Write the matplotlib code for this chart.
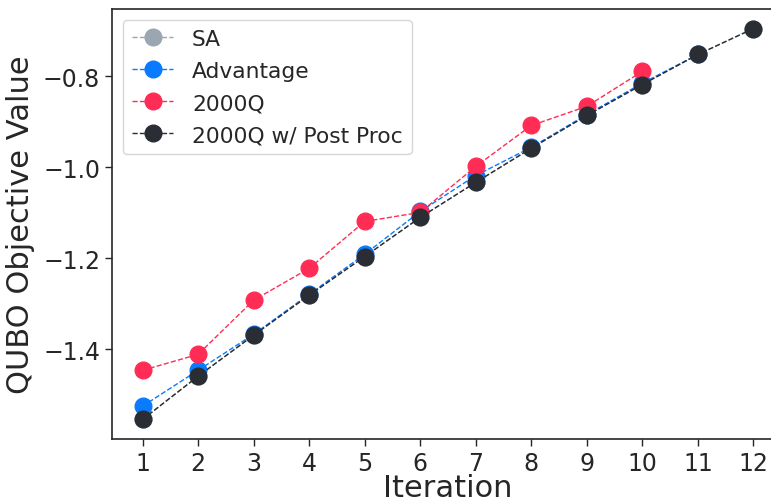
import numpy as np
import matplotlib
matplotlib.use("Agg")
import matplotlib.pyplot as plt

iterations = list(range(1, 13))

sa = [-1.554, -1.459, -1.369, -1.281, -1.196, -1.110, -1.033, -0.958, -0.886, -0.818, -0.752, -0.695]
advantage = [-1.525, -1.446, -1.367, -1.279, -1.191, -1.097, -1.018, -0.956, -0.884, -0.815, -0.752]
q2000 = [-1.446, -1.411, -1.292, -1.222, -1.119, -1.099, -0.998, -0.908, -0.866, -0.789]
q2000_post = [-1.554, -1.459, -1.369, -1.281, -1.196, -1.110, -1.033, -0.958, -0.886, -0.818, -0.752, -0.695]

series = [
    ("SA", sa, "#9aa6b2"),
    ("Advantage", advantage, "#0a7bff"),
    ("2000Q", q2000, "#ff2d55"),
    ("2000Q w/ Post Proc", q2000_post, "#2a2d34"),
]

text_color = "#262626"
plt.rcParams["font.family"] = "DejaVu Sans"

fig = plt.figure(figsize=(7.71, 5.02), dpi=100)
W, H = 771, 502
ax = fig.add_axes([112 / W, (H - 440) / H, (784 - 112) / W, (440 - 10) / H])

for name, vals, col in series:
    ax.plot(iterations[:len(vals)], vals, linestyle="--", linewidth=1, marker="o",
            markersize=12, color=col, label=name)

ax.set_xticks(iterations)
ax.set_yticks([-1.4, -1.2, -1.0, -0.8])
ax.tick_params(axis="both", labelsize=17, colors=text_color, direction="out", length=5, width=1)
ax.set_xlabel("Iteration", fontsize=22, color=text_color, labelpad=-1)
ax.set_ylabel("QUBO Objective Value", fontsize=22, color=text_color, labelpad=6)
for s in ax.spines.values():
    s.set_color(text_color)
    s.set_linewidth(1.2)

leg = ax.legend(loc="upper left", fontsize=15.7, frameon=True, borderpad=0.42,
                handlelength=1.9, handletextpad=0.85, labelspacing=0.55)
leg.get_frame().set_edgecolor("#cccccc")
for t in leg.get_texts():
    t.set_color(text_color)

fig.savefig("out.png", dpi=100)
